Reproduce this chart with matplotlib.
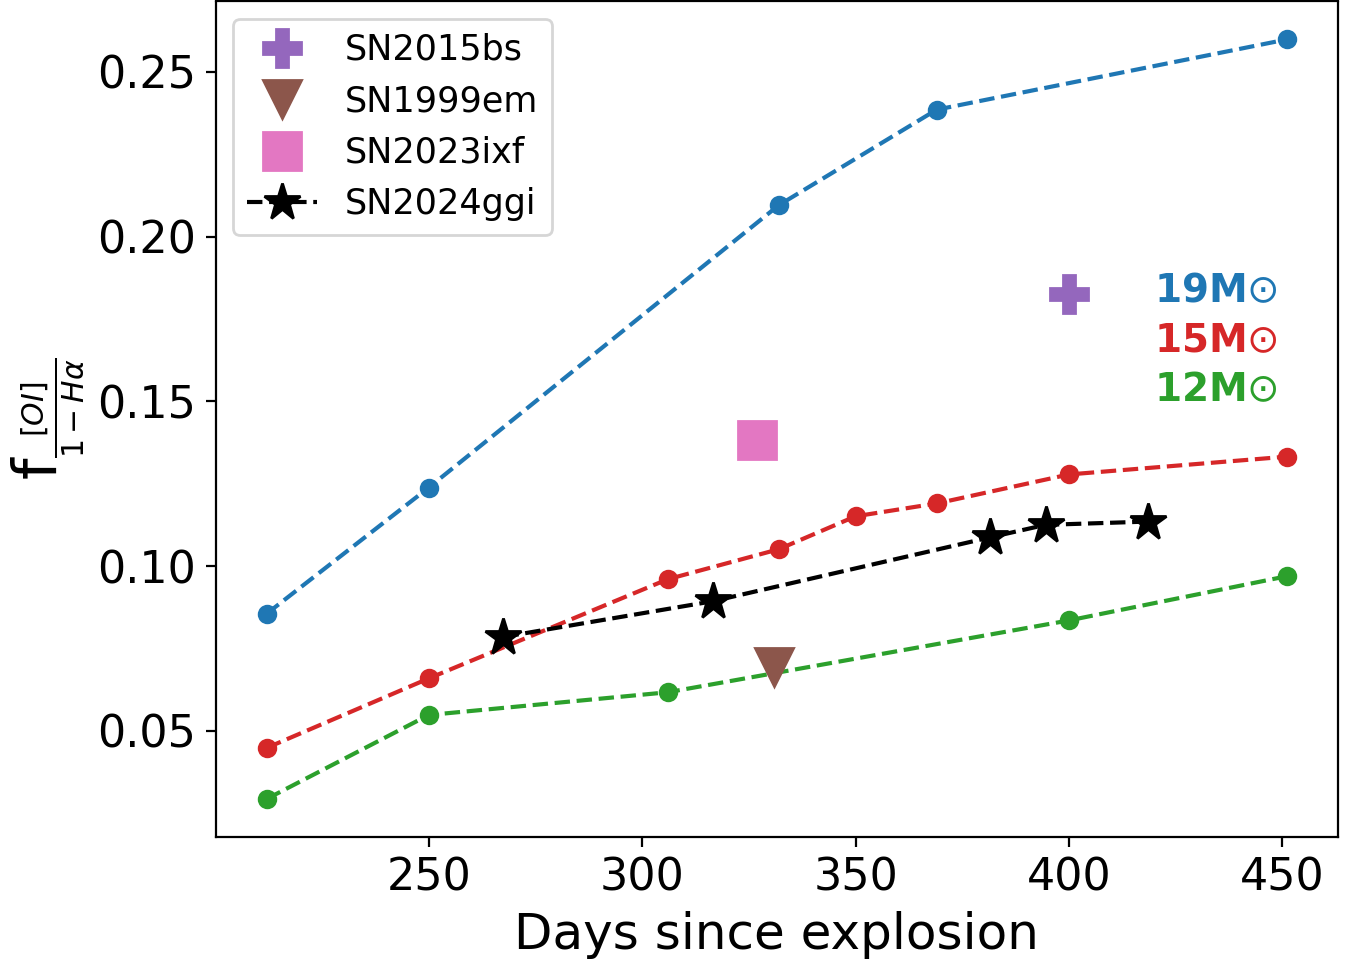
import matplotlib.pyplot as plt

# model tracks (days, f ratio)
days_19 = [212, 250, 332, 369, 451]
f_19 = [0.0855, 0.1238, 0.2095, 0.2385, 0.2598]

days_15 = [212, 250, 306, 332, 350, 369, 400, 451]
f_15 = [0.0448, 0.0659, 0.0960, 0.1051, 0.1151, 0.1190, 0.1278, 0.1332]

days_12 = [212, 250, 306, 400, 451]
f_12 = [0.0293, 0.0548, 0.0617, 0.0835, 0.0969]

# observed supernovae
days_15bs, f_15bs = [400], [0.1825]
days_99em, f_99em = [331], [0.0695]
days_23ixf, f_23ixf = [327], [0.1382]
days_24ggi = [267.5, 316.5, 381.5, 394.5, 418.5]
f_24ggi = [0.0785, 0.0893, 0.1087, 0.1125, 0.1135]

model_labels = [r"19M$\odot$", r"15M$\odot$", r"12M$\odot$"]
model_label_y = [0.18, 0.165, 0.15]

fig = plt.figure(figsize=(1351 / 200, 960 / 200), dpi=200)
ax = fig.add_axes([215.5 / 1351, 123 / 960, 1122.2 / 1351, 835.5 / 960])

ax.plot(days_19, f_19, "o--", color="tab:blue")
ax.plot(days_15, f_15, "o--", color="tab:red")
ax.plot(days_12, f_12, "o--", color="tab:green")

ax.plot(days_15bs, f_15bs, "P", color="tab:purple", ms=14, ls="none", label="SN2015bs")
ax.plot(days_99em, f_99em, "v", color="tab:brown", ms=14, ls="none", label="SN1999em")
ax.plot(days_23ixf, f_23ixf, "s", color="tab:pink", ms=14, ls="none", label="SN2023ixf")
ax.plot(days_24ggi, f_24ggi, "*--", color="k", ms=14, label="SN2024ggi")

for lab, y, c in zip(model_labels, model_label_y, ["tab:blue", "tab:red", "tab:green"]):
    ax.text(420, y, lab, color=c, fontsize=14, fontweight="bold")

ax.set_xlabel("Days since explosion", fontsize=18)
ax.set_ylabel(r"f$_{\frac{[OI]}{1-H\alpha}}$", fontsize=22)
ax.tick_params(labelsize=16)
ax.legend(loc="upper left", fontsize=12.6)

fig.savefig("out.png", dpi=200)
